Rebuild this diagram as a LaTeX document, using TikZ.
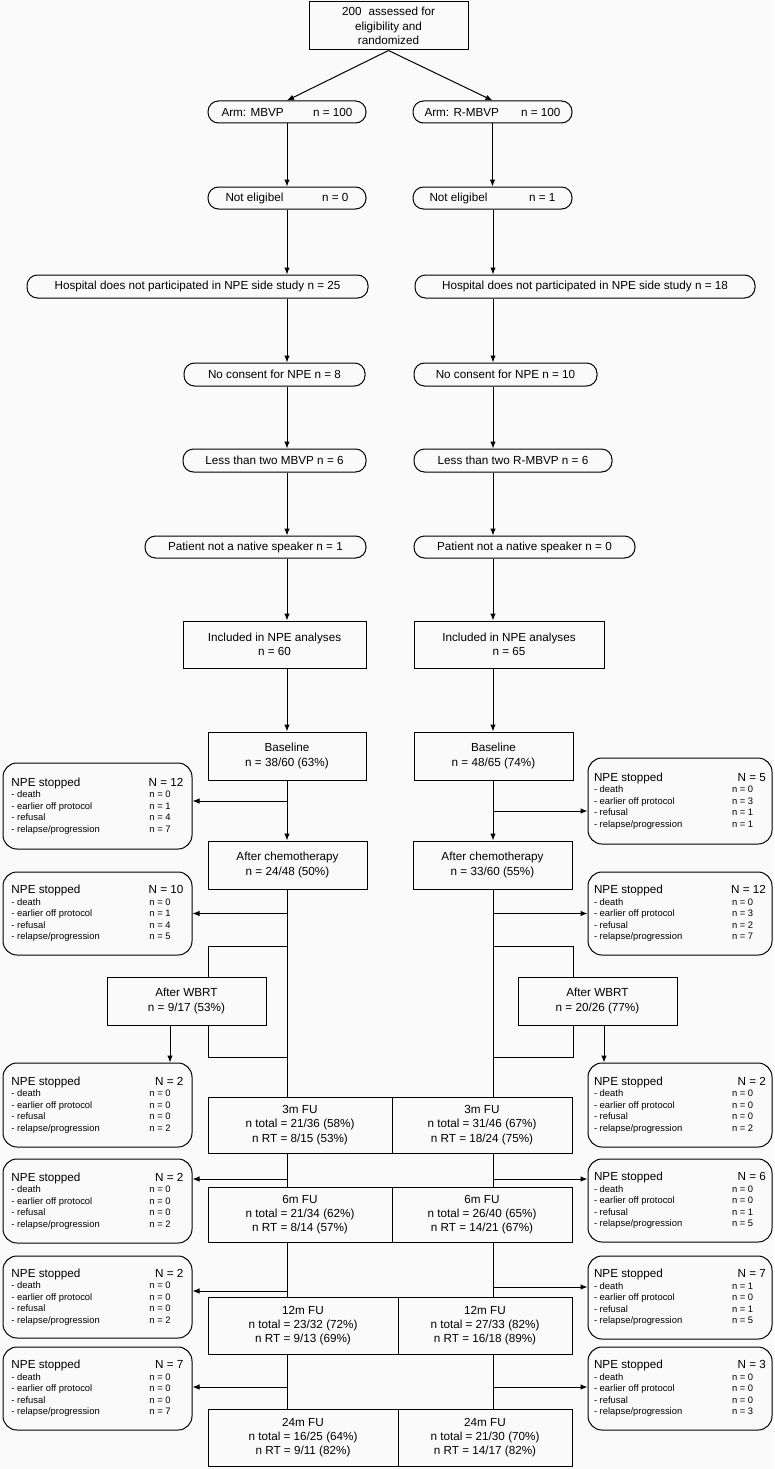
\documentclass[tikz,border=0pt]{standalone}
\usepackage{fontspec}
\setmainfont{Liberation Sans}
\usetikzlibrary{arrows.meta}

\definecolor{bgcol}{RGB}{250,250,250}

\newcommand{\npelist}[5]{\parbox{172pt}{%
  \fontsize{11.7}{11.5}\selectfont\makebox[172pt]{NPE stopped\hfill N = #1}\par
  \fontsize{9.4}{11.5}\selectfont
  \makebox[138pt][l]{- death}n = #2\par
  \makebox[138pt][l]{- earlier off protocol}n = #3\par
  \makebox[138pt][l]{- refusal}n = #4\par
  \makebox[138pt][l]{- relapse/progression}n = #5}}

\tikzset{
  box/.style={draw, rectangle, line width=1pt, inner sep=0pt, align=center,
    font=\fontsize{11.7}{14.3}\selectfont},
  pill/.style={box, rounded corners=10.5pt, minimum height=22pt},
  stopbox/.style={draw, rounded corners=14pt, line width=1pt, inner sep=0pt},
  line/.style={line width=1pt},
  arr/.style={line, -{Latex[length=7pt,width=5.5pt]}},
}

\begin{document}
\begin{tikzpicture}[x=1pt, y=-1pt]
    \path[use as bounding box, fill=bgcol] (0,0) rectangle (774,1469);
    \coordinate (colL) at (287,0);
    \coordinate (colR) at (493,0);

    % Randomisation and the two arms
    \node[box, minimum width=159pt, minimum height=48pt] (top) at (388.5,26) {200\hspace{0.6em}assessed for\\eligibility and\\randomized};
    \node[pill, minimum width=158pt] (armL) at (287,112) {\makebox[131pt]{Arm: MBVP\hfill n = 100}};
    \node[pill, minimum width=159pt] (armR) at (492.5,112) {\makebox[136pt]{Arm: R-MBVP\hfill n = 100}};
    \draw[arr] (top.south) -- (armL.north);
    \draw[arr] (top.south) -- (armR.north);

    % Exclusions
    \node[pill, minimum width=158pt] (noelL) at (287,198) {\makebox[123pt]{Not eligibel\hfill n = 0}};
    \node[pill, minimum width=159pt] (noelR) at (492.5,198) {\makebox[126pt]{Not eligibel\hfill n = 1}};
    \node[pill, minimum width=341pt, minimum height=23pt] (hospL) at (197.5,286.5) {Hospital does not participated in NPE side study n = 25};
    \node[pill, minimum width=340pt, minimum height=23pt] (hospR) at (585,286.5) {Hospital does not participated in NPE side study n = 18};
    \node[pill, minimum width=181pt, minimum height=23pt] (consL) at (274.5,374.5) {No consent for NPE n = 8};
    \node[pill, minimum width=183pt, minimum height=23pt] (consR) at (505.5,374.5) {No consent for NPE n = 10};
    \node[pill, minimum width=183pt, minimum height=23pt] (lessL) at (274.5,460.5) {Less than two MBVP n = 6};
    \node[pill, minimum width=198pt, minimum height=23pt] (lessR) at (513,460.5) {Less than two R-MBVP n = 6};
    \node[pill, minimum width=221pt] (natL) at (255.5,547) {Patient not a native speaker n = 1};
    \node[pill, minimum width=221pt] (natR) at (524.5,547) {Patient not a native speaker n = 0};
    \draw[arr] (armL) -- (noelL);
    \draw[arr] (armR) -- (noelR);
    \draw[arr] (noelL.south -| colL) -- (hospL.north -| colL);
    \draw[arr] (noelR.south -| colR) -- (hospR.north -| colR);
    \draw[arr] (hospL.south -| colL) -- (consL.north -| colL);
    \draw[arr] (hospR.south -| colR) -- (consR.north -| colR);
    \draw[arr] (consL.south -| colL) -- (lessL.north -| colL);
    \draw[arr] (consR.south -| colR) -- (lessR.north -| colR);
    \draw[arr] (lessL.south -| colL) -- (natL.north -| colL);
    \draw[arr] (lessR.south -| colR) -- (natR.north -| colR);

    % Included, baseline, chemotherapy
    \node[box, minimum width=183pt, minimum height=47pt] (inclL) at (274.5,644.5) {Included in NPE analyses\\n = 60};
    \node[box, minimum width=190pt, minimum height=47pt] (inclR) at (509,644.5) {Included in NPE analyses\\n = 65};
    \node[box, minimum width=158pt, minimum height=48pt] (baseL) at (287,756) {Baseline\\n = 38/60 (63\%)};
    \node[box, minimum width=159pt, minimum height=48pt] (baseR) at (493.5,756) {Baseline\\n = 48/65 (74\%)};
    \node[box, minimum width=159pt, minimum height=48pt] (chemoL) at (287.5,865) {After chemotherapy\\n = 24/48 (50\%)};
    \node[box, minimum width=159pt, minimum height=48pt] (chemoR) at (492.5,865) {After chemotherapy\\n = 33/60 (55\%)};
    \draw[arr] (natL.south -| colL) -- (inclL.north -| colL);
    \draw[arr] (natR.south -| colR) -- (inclR.north -| colR);
    \draw[arr] (inclL.south -| colL) -- (baseL.north -| colL);
    \draw[arr] (inclR.south -| colR) -- (baseR.north -| colR);
    \draw[arr] (baseL.south -| colL) -- (chemoL.north -| colL);
    \draw[arr] (baseR.south -| colR) -- (chemoR.north -| colR);

    % NPE stopped boxes
    \node[stopbox, minimum width=189pt, minimum height=86pt] (sL1) at (97.5,806) {\npelist{12}{0}{1}{4}{7}};
    \node[stopbox, minimum width=184pt, minimum height=86pt] (sR1) at (680,801) {\npelist{5}{0}{3}{1}{1}};
    \node[stopbox, minimum width=189pt, minimum height=83pt] (sL2) at (97.5,913.5) {\npelist{10}{0}{1}{4}{5}};
    \node[stopbox, minimum width=184pt, minimum height=83pt] (sR2) at (680,913.5) {\npelist{12}{0}{3}{2}{7}};
    \node[stopbox, minimum width=189pt, minimum height=84pt] (sL3) at (97.5,1105) {\npelist{2}{0}{0}{0}{2}};
    \node[stopbox, minimum width=184pt, minimum height=84pt] (sR3) at (680,1105) {\npelist{2}{0}{0}{0}{2}};
    \node[stopbox, minimum width=189pt, minimum height=84pt] (sL4) at (97.5,1201) {\npelist{2}{0}{0}{0}{2}};
    \node[stopbox, minimum width=184pt, minimum height=83pt] (sR4) at (680,1200.5) {\npelist{6}{0}{0}{1}{5}};
    \node[stopbox, minimum width=189pt, minimum height=82pt] (sL5) at (97.5,1297) {\npelist{2}{0}{0}{0}{2}};
    \node[stopbox, minimum width=184pt, minimum height=83pt] (sR5) at (680,1297.5) {\npelist{7}{1}{0}{1}{5}};
    \node[stopbox, minimum width=189pt, minimum height=83pt] (sL6) at (97.5,1388.5) {\npelist{7}{0}{0}{0}{7}};
    \node[stopbox, minimum width=184pt, minimum height=83pt] (sR6) at (680,1388.5) {\npelist{3}{0}{0}{0}{3}};
    \draw[arr] ([yshift=5pt]sL1.east -| colL) -- ([yshift=5pt]sL1.east);
    \draw[arr] ([yshift=-10pt]sR1.west -| colR) -- ([yshift=-10pt]sR1.west);
    \draw[arr] (sL2.east -| colL) -- (sL2.east);
    \draw[arr] (sR2.west -| colR) -- (sR2.west);

    % WBRT side branch
    \node[box, minimum width=159pt, minimum height=48pt] (wbrtL) at (186.5,1001) {After WBRT\\n = 9/17 (53\%)};
    \node[box, minimum width=159pt, minimum height=48pt] (wbrtR) at (597.5,1001) {After WBRT\\n = 20/26 (77\%)};
    \coordinate (byL) at (208,946);
    \coordinate (bjL) at (208,1057);
    \coordinate (byR) at (573,946);
    \coordinate (bjR) at (573,1057);
    \coordinate (dnL) at (170,0);
    \coordinate (dnR) at (604,0);
    \draw[line] (byL -| colL) -- (byL) -- (wbrtL.north -| byL);
    \draw[line] (wbrtL.south -| bjL) -- (bjL) -- (bjL -| colL);
    \draw[line] (byR -| colR) -- (byR) -- (wbrtR.north -| byR);
    \draw[line] (wbrtR.south -| bjR) -- (bjR) -- (bjR -| colR);
    \draw[arr] (wbrtL.south -| dnL) -- (sL3.north -| dnL);
    \draw[arr] (wbrtR.south -| dnR) -- (sR3.north -| dnR);

    % Follow-up
    \node[box, minimum width=184pt, minimum height=56pt] (fu3L) at (300,1125) {3m FU\\n total = 21/36 (58\%)\\n RT = 8/15 (53\%)};
    \node[box, minimum width=180pt, minimum height=56pt] (fu3R) at (482,1125) {3m FU\\n total = 31/46 (67\%)\\n RT = 18/24 (75\%)};
    \node[box, minimum width=184pt, minimum height=55pt] (fu6L) at (300,1214.5) {6m FU\\n total = 21/34 (62\%)\\n RT = 8/14 (57\%)};
    \node[box, minimum width=180pt, minimum height=55pt] (fu6R) at (482,1214.5) {6m FU\\n total = 26/40 (65\%)\\n RT = 14/21 (67\%)};
    \node[box, minimum width=190pt, minimum height=57pt] (fu12L) at (303,1325.5) {12m FU\\n total = 23/32 (72\%)\\n RT = 9/13 (69\%)};
    \node[box, minimum width=174pt, minimum height=57pt] (fu12R) at (485,1325.5) {12m FU\\n total = 27/33 (82\%)\\n RT = 16/18 (89\%)};
    \node[box, minimum width=190pt, minimum height=57pt] (fu24L) at (303,1437.5) {24m FU\\n total = 16/25 (64\%)\\n RT = 9/11 (82\%)};
    \node[box, minimum width=174pt, minimum height=57pt] (fu24R) at (485,1437.5) {24m FU\\n total = 21/30 (70\%)\\n RT = 14/17 (82\%)};
    \draw[line] (chemoL.south -| colL) -- (fu3L.north -| colL);
    \draw[line] (chemoR.south -| colR) -- (fu3R.north -| colR);
    \draw[line] (fu3L.south -| colL) -- (fu6L.north -| colL);
    \draw[line] (fu3R.south -| colR) -- (fu6R.north -| colR);
    \draw[line] (fu6L.south -| colL) -- (fu12L.north -| colL);
    \draw[line] (fu6R.south -| colR) -- (fu12R.north -| colR);
    \draw[line] (fu12L.south -| colL) -- (fu24L.north -| colL);
    \draw[line] (fu12R.south -| colR) -- (fu24R.north -| colR);
    \draw[arr] ([yshift=22pt]sL4.east -| colL) -- ([yshift=22pt]sL4.east);
    \draw[arr] ([yshift=21.5pt]sR4.west -| colR) -- ([yshift=21.5pt]sR4.west);
    \draw[arr] ([yshift=6pt]sL5.east -| colL) -- ([yshift=6pt]sL5.east);
    \draw[arr] ([yshift=10.5pt]sR5.west -| colR) -- ([yshift=10.5pt]sR5.west);
    \draw[arr] ([yshift=1.5pt]sL6.east -| colL) -- ([yshift=1.5pt]sL6.east);
    \draw[arr] ([yshift=1.5pt]sR6.west -| colR) -- ([yshift=1.5pt]sR6.west);
\end{tikzpicture}
\end{document}
